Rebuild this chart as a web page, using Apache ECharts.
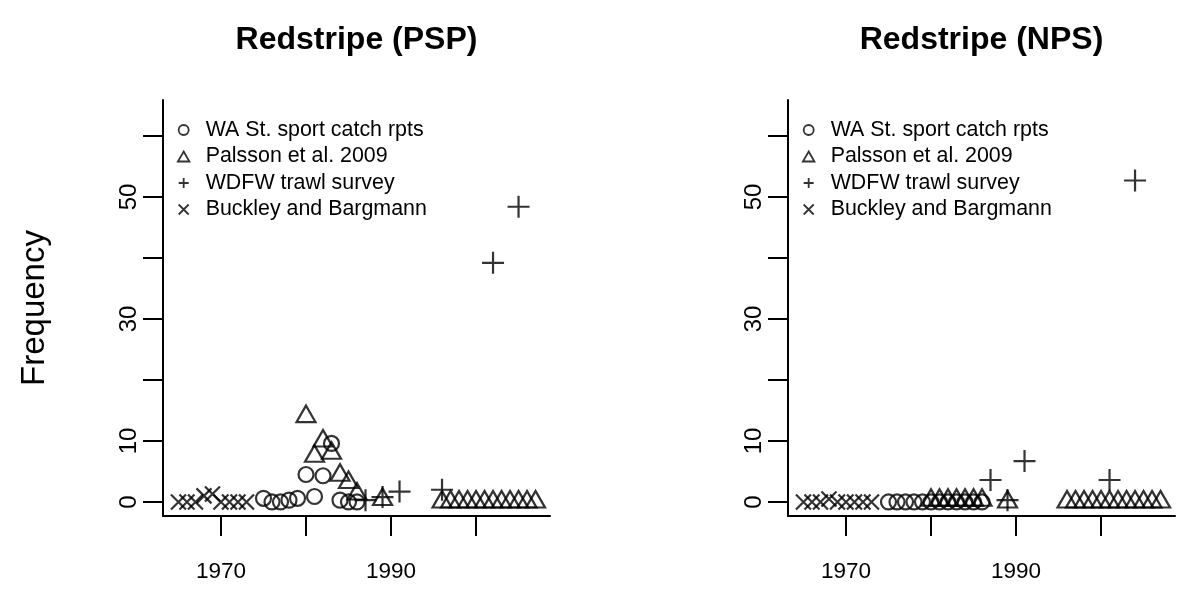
<!DOCTYPE html>
<html>
<head>
<meta charset="utf-8">
<script src="https://cdn.jsdelivr.net/npm/echarts@6/dist/echarts.min.js"></script>
<style>
  html, body { margin: 0; padding: 0; background: #ffffff; }
  #chart { width: 1177px; height: 596px; }
</style>
</head>
<body>
<div id="chart"></div>
<script>
// ---- labels ----
const seriesNames = ['WA St. sport catch rpts', 'Palsson et al. 2009', 'WDFW trawl survey', 'Buckley and Bargmann'];
const panelTitles = ['Redstripe (PSP)', 'Redstripe (NPS)'];
const yTicks = [0, 10, 20, 30, 40, 50, 60];
const yTickLabels = [0, 10, 30, 50];
const xTicks = [1970, 1980, 1990, 2000];
const xTickLabels = [1970, 1990];

// ---- PSP panel ----
const pspSportYears = [1975, 1976, 1977, 1978, 1979, 1980, 1981, 1982, 1983, 1984, 1985, 1986];
const pspSportFreq  = [0.6, 0, 0, 0.3, 0.6, 4.5, 0.9, 4.3, 9.6, 0.3, 0, 0];
const pspPalssonYears = [1980, 1981, 1982, 1983, 1984, 1985, 1986, 1989, 1996, 1997, 1998, 1999, 2000, 2001, 2002, 2003, 2004, 2005, 2006, 2007];
const pspPalssonFreq  = [14, 7.5, 10, 8, 4.4, 3.2, 1.3, 0.4, 0, 0, 0, 0, 0, 0, 0, 0, 0, 0, 0, 0];
const pspTrawlYears = [1987, 1989, 1991, 1996, 2002, 2005];
const pspTrawlFreq  = [0.3, 0.8, 1.7, 2, 39.2, 48.4];
const pspBuckleyYears = [1965, 1966, 1967, 1968, 1969, 1970, 1971, 1972, 1973];
const pspBuckleyFreq  = [0, 0, 0, 1, 1.3, 0, 0, 0, 0];

// ---- NPS panel ----
const npsSportYears = [1975, 1976, 1977, 1978, 1979, 1980, 1981, 1982, 1983, 1984, 1985, 1986];
const npsSportFreq  = [0, 0, 0, 0, 0, 0, 0, 0, 0, 0, 0, 0];
const npsPalssonYears = [1980, 1981, 1982, 1983, 1984, 1985, 1986, 1989, 1996, 1997, 1998, 1999, 2000, 2001, 2002, 2003, 2004, 2005, 2006, 2007];
const npsPalssonFreq  = [0.3, 0.3, 0.3, 0.3, 0.3, 0.3, 0.3, 0, 0, 0, 0, 0, 0, 0, 0, 0, 0, 0, 0, 0];
const npsTrawlYears = [1987, 1989, 1991, 2001, 2004];
const npsTrawlFreq  = [3.6, 0.3, 6.7, 3.6, 52.7];
const npsBuckleyYears = [1965, 1966, 1967, 1968, 1969, 1970, 1971, 1972, 1973];
const npsBuckleyFreq  = [0, 0, 0, 0.5, 0, 0, 0, 0, 0];

// ---- marker shapes (open, unfilled) ----
const SYM_TRIANGLE = 'path://M5,0L10,8.66L0,8.66Z';
const SYM_PLUS = 'path://M0,5L10,5M5,0L5,10';
const SYM_CROSS = 'path://M0,0L10,10M10,0L0,10';
const markerDefs = [
  { symbol: 'circle', size: 15, offset: [0, 0] },
  { symbol: SYM_TRIANGLE, size: [19, 16.5], offset: [0, -2.7] },
  { symbol: SYM_PLUS, size: 22, offset: [0, 0] },
  { symbol: SYM_CROSS, size: 15, offset: [0, 0] }
];

const FONT = '"Liberation Sans", Arial, Helvetica, sans-serif';
const zip = (xs, ys) => xs.map((x, i) => [x, ys[i]]);

const panels = [
  [zip(pspSportYears, pspSportFreq), zip(pspPalssonYears, pspPalssonFreq), zip(pspTrawlYears, pspTrawlFreq), zip(pspBuckleyYears, pspBuckleyFreq)],
  [zip(npsSportYears, npsSportFreq), zip(npsPalssonYears, npsPalssonFreq), zip(npsTrawlYears, npsTrawlFreq), zip(npsBuckleyYears, npsBuckleyFreq)]
];

const plotLefts = [163, 788];
const plotWidth = 387;

const grids = plotLefts.map(l => ({ left: l, width: plotWidth, top: 100, bottom: 80, containLabel: false }));

const axisLineStyle = { color: '#000', width: 2 };

const xAxes = plotLefts.map((l, i) => ({
  type: 'value', gridIndex: i, min: 1963.18, max: 2008.7,
  axisLine: { show: true, onZero: false, lineStyle: axisLineStyle },
  axisTick: { show: true, length: 20, inside: false, lineStyle: axisLineStyle, customValues: xTicks },
  axisLabel: { show: true, customValues: xTickLabels, formatter: v => String(v), margin: 44, fontSize: 22.5, color: '#000', fontFamily: FONT },
  splitLine: { show: false }
}));

const yAxes = plotLefts.map((l, i) => ({
  type: 'value', gridIndex: i, min: -2.3, max: 65.9,
  name: i === 0 ? 'Frequency' : '',
  nameLocation: 'middle', nameRotate: 90, nameGap: 112,
  nameTextStyle: { fontSize: 33, color: '#000', fontFamily: FONT },
  axisLine: { show: true, onZero: false, lineStyle: axisLineStyle },
  axisTick: { show: true, length: 20, inside: false, lineStyle: axisLineStyle, customValues: yTicks },
  axisLabel: { show: true, customValues: yTickLabels, formatter: v => String(v), rotate: 90, margin: 22, fontSize: 24, color: '#000', fontFamily: FONT },
  splitLine: { show: false }
}));

const series = [];
panels.forEach((sets, p) => {
  sets.forEach((data, k) => {
    const m = markerDefs[k];
    series.push({
      type: 'scatter', name: seriesNames[k], xAxisIndex: p, yAxisIndex: p,
      data: data, symbol: m.symbol, symbolSize: m.size, symbolOffset: m.offset,
      itemStyle: { color: 'rgba(0,0,0,0)', borderColor: '#000', borderWidth: 2.2 },
      emphasis: { disabled: true },
      silent: true
    });
  });
});

const legends = plotLefts.map(l => ({
  orient: 'vertical', left: l + 9, top: 114,
  itemWidth: 34, itemHeight: 10, itemGap: 4.5,
  symbolKeepAspect: true,
  selectedMode: false,
  data: seriesNames.map((n, k) => ({ name: n, icon: markerDefs[k].symbol })),
  itemStyle: { color: 'rgba(0,0,0,0)', borderColor: '#000', borderWidth: 1.8 },
  textStyle: { fontSize: 21.4, lineHeight: 22, color: '#000', fontFamily: FONT, padding: [0, 0, 0, 0] }
}));

const titles = plotLefts.map((l, i) => ({
  type: 'text', x: l + plotWidth / 2, y: 40,
  style: { text: panelTitles[i], fontSize: 32, fontWeight: 'bold', fontFamily: FONT, fill: '#000', align: 'center', verticalAlign: 'middle' }
}));

const chart = echarts.init(document.getElementById('chart'), null, { renderer: 'canvas' });
chart.setOption({
  animation: false,
  backgroundColor: '#ffffff',
  grid: grids,
  xAxis: xAxes,
  yAxis: yAxes,
  legend: legends,
  graphic: titles,
  series: series
});
</script>
</body>
</html>
